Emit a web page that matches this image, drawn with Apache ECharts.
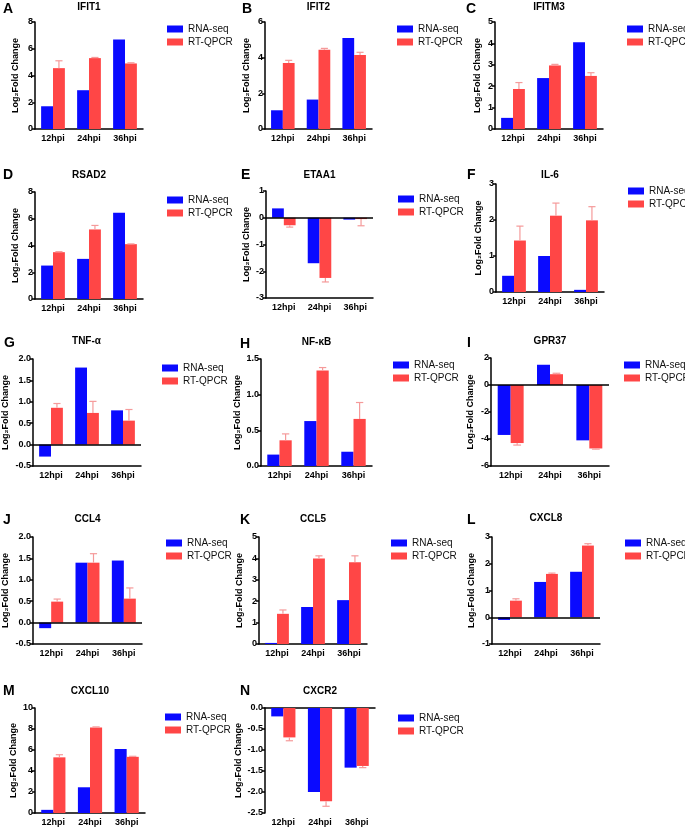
<!DOCTYPE html>
<html>
<head>
<meta charset="utf-8">
<script src="https://cdn.jsdelivr.net/npm/echarts@6/dist/echarts.min.js"></script>
<style>
  html, body { margin: 0; padding: 0; background: #fff; }
  #main { width: 685px; height: 831px; }
</style>
</head>
<body>
<div id="main"></div>
<script>
// time points
var hpi = ['12hpi', '24hpi', '36hpi'];
var genes = ['IFIT1', 'IFIT2', 'IFITM3', 'RSAD2', 'ETAA1', 'IL-6', 'TNF-α', 'NF-κB', 'GPR37', 'CCL4', 'CCL5', 'CXCL8', 'CXCL10', 'CXCR2'];
var letters = ['A', 'B', 'C', 'D', 'E', 'F', 'G', 'H', 'I', 'J', 'K', 'L', 'M', 'N'];

// Log2 fold change
var rnaSeq = [
  [1.7, 2.9, 6.7],
  [1.05, 1.65, 5.1],
  [0.52, 2.38, 4.05],
  [2.5, 3.0, 6.45],
  [0.35, -1.7, -0.07],
  [0.45, 1.0, 0.06],
  [-0.28, 1.8, 0.8],
  [0.16, 0.63, 0.2],
  [-3.7, 1.5, -4.1],
  [-0.13, 1.4, 1.45],
  [0.05, 1.73, 2.05],
  [-0.1, 1.32, 1.7],
  [0.3, 2.45, 6.1],
  [-0.2, -2.0, -1.42]
];
var rtQpcr = [
  [4.55, 5.3, 4.9],
  [3.7, 4.45, 4.15],
  [1.87, 2.97, 2.48],
  [3.5, 5.2, 4.1],
  [-0.28, -2.25, -0.05],
  [1.43, 2.12, 1.99],
  [0.86, 0.74, 0.56],
  [0.36, 1.34, 0.66],
  [-4.3, 0.8, -4.7],
  [0.49, 1.4, 0.56],
  [1.41, 4.0, 3.82],
  [0.62, 1.62, 2.68],
  [5.3, 8.15, 5.35],
  [-0.7, -2.22, -1.38]
];
var rtQpcrErr = [
  [0.55, 0.05, 0.05],
  [0.15, 0.07, 0.15],
  [0.3, 0.05, 0.15],
  [0.04, 0.3, 0.02],
  [0.07, 0.15, 0.25],
  [0.4, 0.35, 0.38],
  [0.1, 0.27, 0.26],
  [0.09, 0.04, 0.23],
  [0.15, 0.07, 0.05],
  [0.06, 0.21, 0.25],
  [0.18, 0.12, 0.3],
  [0.07, 0.03, 0.07],
  [0.25, 0.05, 0.05],
  [0.08, 0.12, 0.04]
];
var yMin = [0, 0, 0, 0, -3, 0, -0.5, 0, -6, -0.5, 0, -1, 0, -2.5];
var yMax = [8, 6, 5, 8, 1, 3, 2, 1.5, 2, 2, 5, 3, 10, 0];
var yStep = [2, 2, 1, 2, 1, 1, 0.5, 0.5, 2, 0.5, 1, 1, 2, 0.5];
var yDecimals = [0, 0, 0, 0, 0, 0, 1, 1, 0, 1, 0, 0, 0, 1];

// plot boxes: left, right, top, bottom (px)
var boxes = [
  [35, 143, 22, 129], [265, 372, 22, 129], [495, 603, 22, 129],
  [35, 143, 192, 299], [266, 373, 191, 298], [496, 604, 184, 292],
  [32, 141, 359, 466], [261, 372, 359, 466], [491, 609, 358, 466],
  [33, 142, 537, 644], [259, 367, 537, 644], [492, 600, 537, 644],
  [35, 145, 708, 813], [265, 375, 708, 813]
];
var nameGaps = [15, 14, 13, 15, 15, 13, 23, 19, 16, 23, 15, 16, 17, 22];
var titleY = [2, 2, 2, 170, 170, 170, 336, 337, 336, 514, 514, 513, 686, 686];
var letterPos = [
  [3, 2], [242, 2], [466, 2],
  [3, 168], [241, 168], [467, 168],
  [4, 336], [240, 337], [467, 336],
  [3, 513], [240, 513], [467, 513],
  [3, 684], [240, 684]
];
var legendPos = [
  [167, 24], [397, 24], [627, 24],
  [167, 195], [398, 194], [628, 186],
  [162, 363], [393, 360], [624, 360],
  [166, 538], [391, 538], [625, 538],
  [165, 712], [398, 713]
];

var BLUE = '#0a0aff';
var RED = '#ff4646';
var ERR = '#f59a9a';
var CAT_GAP = 0.34;
var FONT = '"Liberation Sans", Arial, sans-serif';

var chart = echarts.init(document.getElementById('main'));

var grid = [], xAxis = [], yAxis = [], series = [], title = [], legend = [];

genes.forEach(function (gene, i) {
  var b = boxes[i];
  var negBelow = yMin[i] < 0 && yMax[i] > 0;
  grid.push({ left: b[0], top: b[2], width: b[1] - b[0], height: b[3] - b[2] });
  xAxis.push({
    type: 'category',
    gridIndex: i,
    data: hpi,
    axisLine: { onZero: !negBelow, lineStyle: { color: '#000', width: 1.5 } },
    axisTick: { alignWithLabel: true, length: 4, lineStyle: { color: '#000', width: 1.5 } },
    axisLabel: { color: '#000', fontWeight: 'bold', fontSize: 9, fontFamily: FONT, margin: 5 }
  });
  yAxis.push({
    type: 'value',
    gridIndex: i,
    min: yMin[i],
    max: yMax[i],
    interval: yStep[i],
    name: 'Log₂Fold Change',
    nameLocation: 'middle',
    nameGap: nameGaps[i],
    nameTextStyle: { color: '#000', fontWeight: 'bold', fontSize: 9, fontFamily: FONT },
    axisLine: { show: true, lineStyle: { color: '#000', width: 1.5 } },
    axisTick: { show: true, length: 3, lineStyle: { color: '#000', width: 1.5 } },
    axisLabel: {
      color: '#000', fontWeight: 'bold', fontSize: 9, fontFamily: FONT, margin: 2,
      formatter: (function (d) { return function (v) { return v.toFixed(d); }; })(yDecimals[i])
    },
    splitLine: { show: false }
  });
  title.push({
    text: gene,
    left: (b[0] + b[1]) / 2,
    top: titleY[i],
    padding: 0,
    textAlign: 'center',
    textStyle: { color: '#000', fontWeight: 'bold', fontSize: 10, fontFamily: FONT }
  });
  title.push({
    text: letters[i],
    left: letterPos[i][0],
    top: letterPos[i][1],
    padding: 0,
    textStyle: { color: '#000', fontWeight: 'bold', fontSize: 14, fontFamily: FONT }
  });
  legend.push({
    orient: 'vertical',
    left: legendPos[i][0],
    top: legendPos[i][1],
    padding: 0,
    itemWidth: 16,
    itemHeight: 7,
    itemGap: 3,
    icon: 'rect',
    data: ['RNA-seq', 'RT-QPCR'],
    textStyle: { color: '#111', fontSize: 10, fontFamily: FONT }
  });
  var rnaBar = {
    name: 'RNA-seq',
    type: 'bar',
    xAxisIndex: i,
    yAxisIndex: i,
    data: rnaSeq[i],
    barGap: '0%',
    barCategoryGap: (CAT_GAP * 100) + '%',
    itemStyle: { color: BLUE },
    z: 2
  };
  if (negBelow) {
    // zero line drawn across the plot, x labels stay at the bottom
    rnaBar.markLine = {
      silent: true,
      symbol: 'none',
      label: { show: false },
      lineStyle: { color: '#000', width: 1.5, type: 'solid' },
      data: [{ yAxis: 0 }],
      z: 5
    };
  }
  series.push(rnaBar);
  series.push({
    name: 'RT-QPCR',
    type: 'bar',
    xAxisIndex: i,
    yAxisIndex: i,
    data: rtQpcr[i],
    barGap: '0%',
    barCategoryGap: (CAT_GAP * 100) + '%',
    itemStyle: { color: RED },
    z: 2
  });
  // error bars on the RT-QPCR bars
  series.push({
    name: 'RT-QPCR',
    type: 'custom',
    xAxisIndex: i,
    yAxisIndex: i,
    z: 3,
    data: hpi.map(function (c, j) { return [j, rtQpcr[i][j], rtQpcrErr[i][j]]; }),
    encode: { x: 0, y: 1 },
    renderItem: function (params, api) {
      var j = api.value(0), v = api.value(1), e = api.value(2);
      var band = api.size([1, 0])[0];
      var bw = band * (1 - CAT_GAP) / 2;
      var base = api.coord([j, v]);
      var x = base[0] + bw / 2;
      var end = api.coord([j, v >= 0 ? v + e : v - e]);
      var cap = bw * 0.3;
      var style = { stroke: ERR, lineWidth: 1.2 };
      return {
        type: 'group',
        children: [
          { type: 'line', shape: { x1: x, y1: base[1], x2: x, y2: end[1] }, style: style },
          { type: 'line', shape: { x1: x - cap, y1: end[1], x2: x + cap, y2: end[1] }, style: style }
        ]
      };
    }
  });
});

chart.setOption({
  backgroundColor: '#fff',
  animation: false,
  title: title,
  legend: legend,
  grid: grid,
  xAxis: xAxis,
  yAxis: yAxis,
  series: series
});
</script>
</body>
</html>
